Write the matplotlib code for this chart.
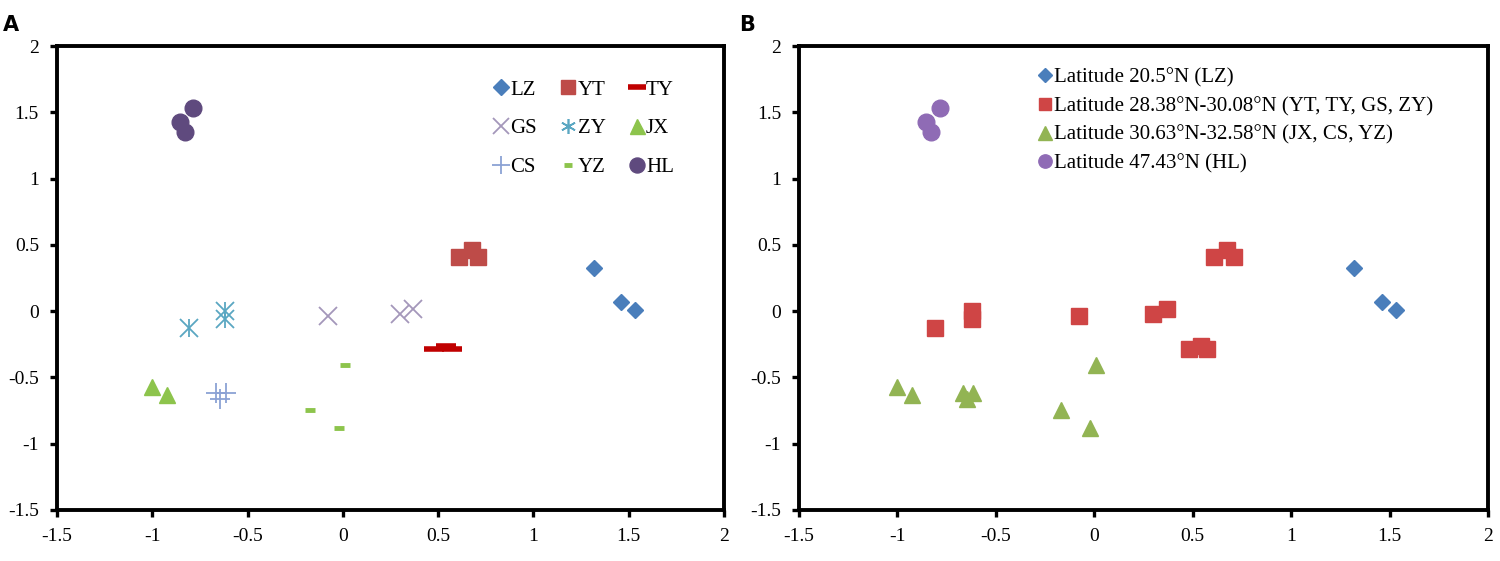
import matplotlib
matplotlib.use('Agg')
import matplotlib.pyplot as plt

plt.rcParams['font.family'] = ['Liberation Serif', 'DejaVu Serif']

# sample coordinates (axis 1, axis 2)
lz_x = [1.32, 1.46, 1.535]
lz_y = [0.325, 0.07, 0.01]
yt_x = [0.61, 0.675, 0.71]
yt_y = [0.41, 0.46, 0.41]
ty_x = [0.48, 0.54, 0.57]
ty_y = [-0.285, -0.265, -0.285]
gs_x = [-0.08, 0.30, 0.37]
gs_y = [-0.04, -0.025, 0.015]
zy_x = [-0.81, -0.62, -0.62]
zy_y = [-0.13, 0.0, -0.06]
jx_x = [-1.0, -0.925]
jx_y = [-0.57, -0.63]
cs_x = [-0.665, -0.615, -0.645]
cs_y = [-0.62, -0.62, -0.66]
yz_x = [0.01, -0.17, -0.02]
yz_y = [-0.41, -0.745, -0.885]
hl_x = [-0.855, -0.83, -0.785]
hl_y = [1.43, 1.35, 1.535]

ticks = [-1.5, -1, -0.5, 0, 0.5, 1, 1.5, 2]
tick_labels = ['-1.5', '-1', '-0.5', '0', '0.5', '1', '1.5', '2']

lat_labels = ['Latitude 20.5°N (LZ)',
              'Latitude 28.38°N-30.08°N (YT, TY, GS, ZY)',
              'Latitude 30.63°N-32.58°N (JX, CS, YZ)',
              'Latitude 47.43°N (HL)']

fig = plt.figure(figsize=(15, 5.61), dpi=100)
axA = fig.add_axes([0.038, 0.091, 0.4447, 0.827])
axB = fig.add_axes([0.5327, 0.091, 0.4593, 0.827])


def style(ax):
    ax.set_xlim(-1.5, 2)
    ax.set_ylim(-1.5, 2)
    ax.set_xticks(ticks)
    ax.set_xticklabels(tick_labels)
    ax.set_yticks(ticks)
    ax.set_yticklabels(tick_labels)
    for s in ax.spines.values():
        s.set_linewidth(2.8)
    ax.tick_params(direction='out', length=5, width=2.4, labelsize=14, pad=8)


# panel A: one marker per site
axA.plot(lz_x, lz_y, 'D', color='#4A7EBB', ms=8.5, ls='none', label='LZ')
axA.plot(yt_x, yt_y, 's', color='#BE4B48', ms=11, ls='none', label='YT')
axA.plot(ty_x, ty_y, '_', color='#C00000', ms=14, mew=4, ls='none', label='TY')
axA.plot(gs_x, gs_y, 'x', color='#A497BA', ms=13, mew=1.3, ls='none', label='GS')
for mk in ['x', '|']:
    axA.plot(zy_x, zy_y, mk, color='#5AA7C2', ms=13, mew=1.3, ls='none')
axA.plot([], [], marker=(6, 2, 0), color='#5AA7C2', ms=12, mew=1.2, ls='none', label='ZY')
axA.plot(jx_x, jx_y, '^', color='#8DC44C', ms=12, ls='none', label='JX')
axA.plot(cs_x, cs_y, '+', color='#8BA2D4', ms=14, mew=1.3, ls='none', label='CS')
axA.plot(yz_x, yz_y, '_', color='#8DC44C', ms=7, mew=3.5, ls='none', label='YZ')
axA.plot(hl_x, hl_y, 'o', color='#5F4A7E', ms=12, ls='none', label='HL')
style(axA)
hA, lA = axA.get_legend_handles_labels()
# reorder so rows read LZ YT TY / GS ZY JX / CS YZ HL
order = [0, 3, 6, 1, 4, 7, 2, 5, 8]
axA.legend([hA[i] for i in order], [lA[i] for i in order], ncol=3, frameon=False,
           loc='upper left', bbox_to_anchor=(0.625, 0.967), fontsize=15,
           handletextpad=0.05, columnspacing=1.1, labelspacing=0.92,
           handlelength=0.8, markerscale=0.9)

# panel B: grouped by latitude
blue_x, blue_y = lz_x, lz_y
red_x = yt_x + ty_x + gs_x + zy_x
red_y = yt_y + ty_y + gs_y + zy_y
green_x = jx_x + cs_x + yz_x
green_y = jx_y + cs_y + yz_y
axB.plot(blue_x, blue_y, 'D', color='#4A7EBB', ms=8.5, ls='none', label=lat_labels[0])
axB.plot(red_x, red_y, 's', color='#CF4545', ms=11, ls='none', label=lat_labels[1])
axB.plot(green_x, green_y, '^', color='#92B453', ms=12, ls='none', label=lat_labels[2])
axB.plot(hl_x, hl_y, 'o', color='#8F6BB5', ms=12, ls='none', label=lat_labels[3])
style(axB)
axB.legend(frameon=False, loc='upper left', bbox_to_anchor=(0.317, 0.9935), fontsize=15,
           handletextpad=0.05, labelspacing=0.44, handlelength=0.8, markerscale=0.8)

fig.text(0.002, 0.945, 'A', fontsize=15, fontweight='bold', family='DejaVu Sans')
fig.text(0.493, 0.945, 'B', fontsize=15, fontweight='bold', family='DejaVu Sans')

fig.savefig('out.png', dpi=100)
